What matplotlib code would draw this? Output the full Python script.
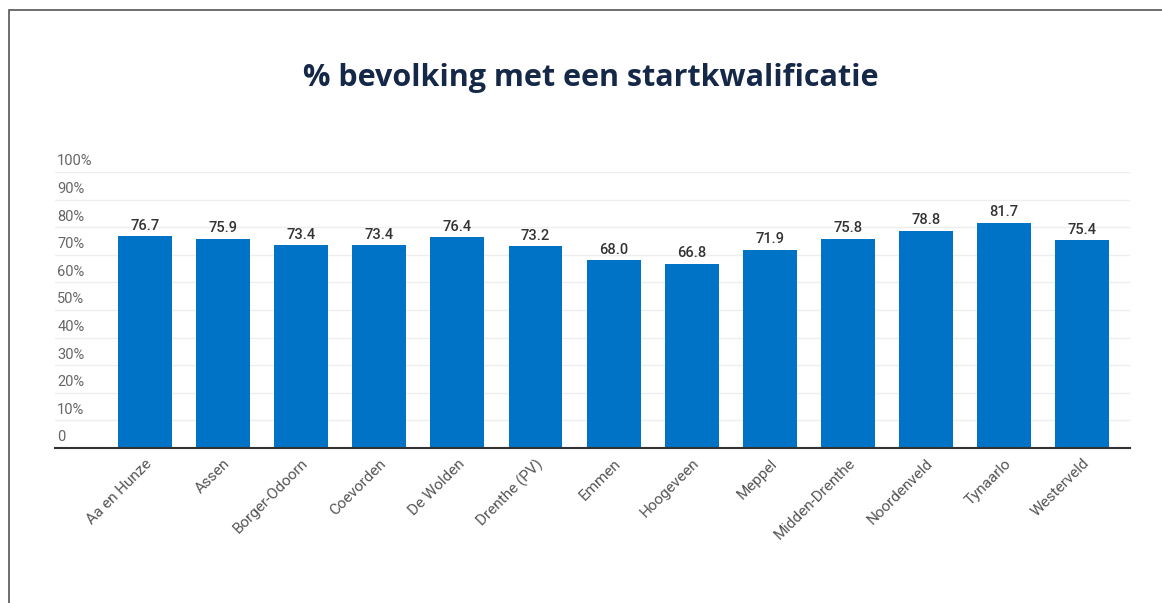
import matplotlib.pyplot as plt
from matplotlib.patches import Rectangle

gemeenten = ['Aa en Hunze', 'Assen', 'Borger-Odoorn', 'Coevorden', 'De Wolden',
             'Drenthe (PV)', 'Emmen', 'Hoogeveen', 'Meppel', 'Midden-Drenthe',
             'Noordenveld', 'Tynaarlo', 'Westerveld']
startkwalificatie = [76.7, 75.9, 73.4, 73.4, 76.4, 73.2, 68.0, 66.8, 71.9, 75.8,
                     78.8, 81.7, 75.4]
yticks = [0, 10, 20, 30, 40, 50, 60, 70, 80, 90, 100]
ylabels = ['0'] + [str(t) + '%' for t in yticks[1:]]

plt.rcParams['font.family'] = ['Roboto', 'DejaVu Sans']

fig = plt.figure(figsize=(11.62, 6.03), dpi=100)
fig.patch.set_facecolor('white')
# frame of the screenshot
fig.patches.append(Rectangle((9 / 1162, -0.1), 2, 1.1 - 10 / 603,
                             transform=fig.transFigure, fill=False,
                             edgecolor='#555555', linewidth=1.2))

ax = fig.add_axes([55 / 1162, 1 - 448 / 603, (1130 - 55) / 1162, (448 - 172) / 603])
x = range(len(gemeenten))
ax.bar(x, startkwalificatie, width=0.69, color='#0073c7', zorder=3)
for i, v in zip(x, startkwalificatie):
    ax.text(i, v + 1.2, '%.1f' % v, ha='center', va='bottom', fontsize=10.5,
            color='#333333', fontweight='medium')

ax.set_xlim(-1.15, 12.61)
ax.set_ylim(0, 100)
ax.set_yticks(yticks)
ax.set_yticklabels([])
ax.tick_params(axis='y', length=0)
ax.grid(axis='y', color='#eeeeee', linewidth=1, zorder=0)
for t, lab in zip(yticks, ylabels):
    ax.text(0.002, t + 1.3, lab, transform=ax.get_yaxis_transform(),
            ha='left', va='bottom', fontsize=10.5, color='#666666')

ax.set_xticks(list(x))
ax.set_xticklabels(gemeenten, rotation=45, ha='right', rotation_mode='anchor',
                   fontsize=11, color='#555555')
ax.tick_params(axis='x', length=0, pad=6)
for s in ['top', 'right', 'left']:
    ax.spines[s].set_visible(False)
ax.spines['bottom'].set_color('#333333')
ax.spines['bottom'].set_linewidth(1.5)
ax.spines['bottom'].set_zorder(4)

fig.text(591 / 1162, 1 - 78 / 603, '% bevolking met een startkwalificatie',
         ha='center', va='center', fontsize=22, fontweight='bold',
         color='#152848', family=['Open Sans', 'DejaVu Sans'])

fig.savefig('out.png', dpi=100)
